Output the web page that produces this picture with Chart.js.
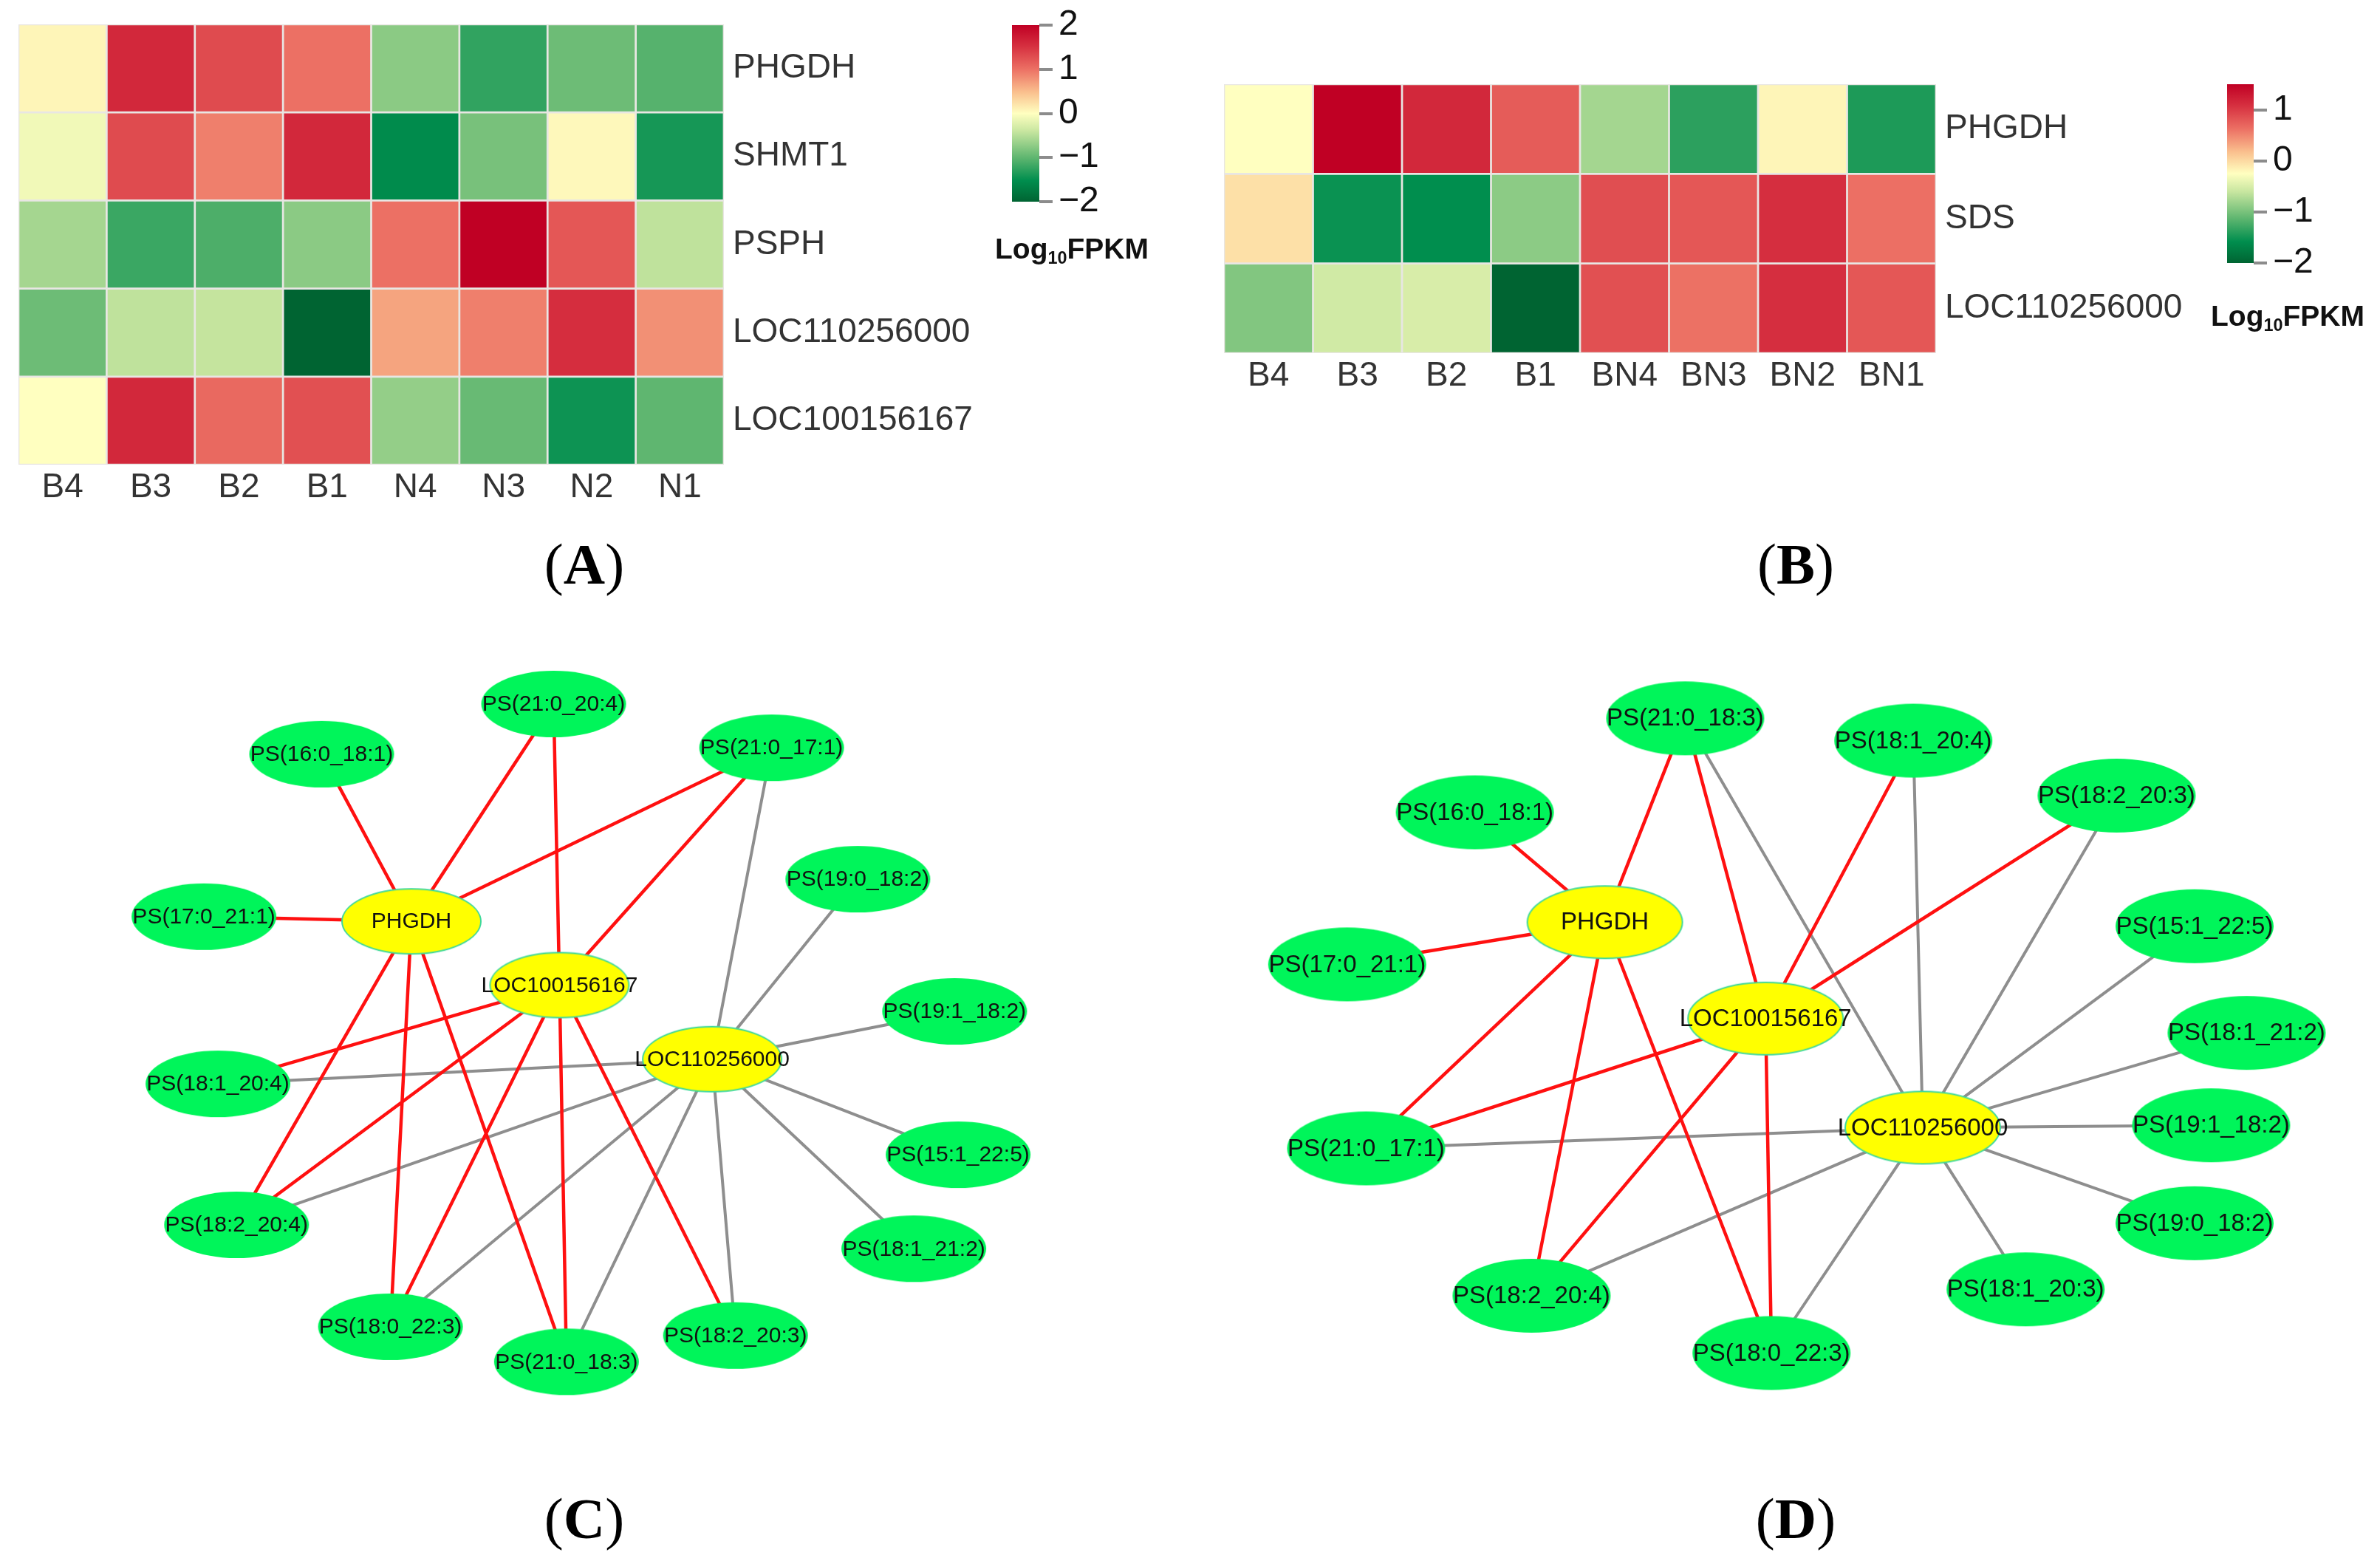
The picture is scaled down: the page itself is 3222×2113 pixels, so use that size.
<!DOCTYPE html>
<html>
<head>
<meta charset="utf-8">
<script src="https://cdn.jsdelivr.net/npm/chart.js@4.4.1/dist/chart.umd.min.js"></script>
<style>
html, body { margin: 0; padding: 0; background: #fff; }
body { width: 3222px; height: 2113px; position: relative; overflow: hidden; font-family: "Liberation Sans", Arial, sans-serif; }
canvas { position: absolute; }
.unit { position: absolute; font-weight: bold; font-size: 39px; line-height: 1; color: #111; white-space: nowrap; }
.unit sub { font-size: 60%; vertical-align: baseline; position: relative; top: 0.3em; }
.tag { position: absolute; width: 400px; text-align: center; font-family: "Liberation Serif", "Times New Roman", serif; font-size: 78px; line-height: 1; color: #000; }
</style>
</head>
<body>
<canvas id="heatA" width="1340" height="720" style="left:0;top:0"></canvas>
<canvas id="barA" width="240" height="420" style="left:1340px;top:-60px"></canvas>
<canvas id="heatB" width="1380" height="620" style="left:1600px;top:0"></canvas>
<canvas id="barB" width="242" height="420" style="left:2980px;top:0"></canvas>
<canvas id="netC" width="1600" height="1100" style="left:0;top:860px"></canvas>
<canvas id="netD" width="1622" height="1100" style="left:1600px;top:860px"></canvas>

<div class="unit" style="left:1347px;top:317px">Log<sub>10</sub>FPKM</div>
<div class="unit" style="left:2993px;top:408px">Log<sub>10</sub>FPKM</div>
<div class="tag" style="left:591px;top:725px">(<b>A</b>)</div>
<div class="tag" style="left:2231px;top:725px">(<b>B</b>)</div>
<div class="tag" style="left:591px;top:2017px">(<b>C</b>)</div>
<div class="tag" style="left:2231px;top:2017px">(<b>D</b>)</div>

<script>
// ---- panel A heatmap ----
const colsA = ['B4', 'B3', 'B2', 'B1', 'N4', 'N3', 'N2', 'N1'];
const rowsA = ['PHGDH', 'SHMT1', 'PSPH', 'LOC110256000', 'LOC100156167'];
const valsA = [
  [0.08, 1.6, 1.3, 1.0, -0.75, -1.25, -0.92, -1.05],
  [-0.1, 1.3, 0.9, 1.6, -1.55, -0.86, 0.05, -1.4],
  [-0.6, -1.2, -1.1, -0.75, 1.0, 2.0, 1.2, -0.45],
  [-0.92, -0.45, -0.42, -2.0, 0.66, 0.9, 1.55, 0.79],
  [0.0, 1.6, 1.06, 1.26, -0.7, -0.95, -1.45, -1.0]
];
const rangeA = [-2, 2];
const barTicksA = [-2, -1, 0, 1, 2];

// ---- panel B heatmap ----
const colsB = ['B4', 'B3', 'B2', 'B1', 'BN4', 'BN3', 'BN2', 'BN1'];
const rowsB = ['PHGDH', 'SDS', 'LOC110256000'];
const valsB = [
  [-0.25, 1.5, 1.15, 0.77, -0.78, -1.37, -0.18, -1.44],
  [-0.04, -1.53, -1.58, -0.9, 0.87, 0.8, 1.1, 0.63],
  [-0.95, -0.55, -0.5, -2.0, 0.85, 0.62, 1.1, 0.8]
];
const rangeB = [-2, 1.5];
const barTicksB = [-2, -1, 0, 1];

// ---- panel C network (layout position in % of panel) ----
const namesC = ['PS(21:0_20:4)', 'PS(16:0_18:1)', 'PS(21:0_17:1)', 'PS(19:0_18:2)', 'PS(17:0_21:1)',
  'PHGDH', 'LOC100156167', 'PS(19:1_18:2)', 'LOC110256000', 'PS(18:1_20:4)', 'PS(15:1_22:5)',
  'PS(18:2_20:4)', 'PS(18:1_21:2)', 'PS(18:0_22:3)', 'PS(21:0_18:3)', 'PS(18:2_20:3)'];
const xC = [46.8, 26.9, 65.5, 72.9, 16.8, 34.6, 47.3, 81.2, 60.4, 18.0, 81.5, 19.6, 77.7, 32.8, 47.9, 62.4];
const yC = [7.6, 13.9, 13.1, 29.6, 34.3, 34.9, 42.9, 46.2, 52.2, 55.3, 64.2, 73.0, 76.0, 85.8, 90.2, 86.9];
const redC = [
  ['PHGDH', 'PS(16:0_18:1)'], ['PHGDH', 'PS(21:0_20:4)'], ['PHGDH', 'PS(21:0_17:1)'], ['PHGDH', 'PS(17:0_21:1)'],
  ['PHGDH', 'PS(18:2_20:4)'], ['PHGDH', 'PS(18:0_22:3)'], ['PHGDH', 'PS(21:0_18:3)'],
  ['LOC100156167', 'PS(21:0_20:4)'], ['LOC100156167', 'PS(21:0_17:1)'], ['LOC100156167', 'PS(18:1_20:4)'],
  ['LOC100156167', 'PS(18:2_20:4)'], ['LOC100156167', 'PS(18:0_22:3)'], ['LOC100156167', 'PS(21:0_18:3)'],
  ['LOC100156167', 'PS(18:2_20:3)']
];
const grayC = [
  ['LOC110256000', 'PS(21:0_17:1)'], ['LOC110256000', 'PS(19:0_18:2)'], ['LOC110256000', 'PS(19:1_18:2)'],
  ['LOC110256000', 'PS(18:1_20:4)'], ['LOC110256000', 'PS(15:1_22:5)'], ['LOC110256000', 'PS(18:1_21:2)'],
  ['LOC110256000', 'PS(18:2_20:3)'], ['LOC110256000', 'PS(21:0_18:3)'], ['LOC110256000', 'PS(18:0_22:3)'],
  ['LOC110256000', 'PS(18:2_20:4)']
];

// ---- panel D network ----
const namesD = ['PS(21:0_18:3)', 'PS(18:1_20:4)', 'PS(16:0_18:1)', 'PS(18:2_20:3)', 'PHGDH',
  'PS(15:1_22:5)', 'PS(17:0_21:1)', 'LOC100156167', 'PS(18:1_21:2)', 'LOC110256000', 'PS(19:1_18:2)',
  'PS(21:0_17:1)', 'PS(19:0_18:2)', 'PS(18:1_20:3)', 'PS(18:2_20:4)', 'PS(18:0_22:3)'];
const xD = [41.9, 61.2, 24.1, 78.4, 35.1, 85.0, 13.3, 48.7, 89.4, 62.0, 86.4, 14.9, 85.0, 70.7, 28.9, 49.2];
const yD = [9.4, 12.2, 21.2, 19.1, 35.0, 35.5, 40.3, 47.1, 48.9, 60.8, 60.5, 63.4, 72.8, 81.1, 81.9, 89.1];
const redD = [
  ['PHGDH', 'PS(16:0_18:1)'], ['PHGDH', 'PS(21:0_18:3)'], ['PHGDH', 'PS(17:0_21:1)'], ['PHGDH', 'PS(21:0_17:1)'],
  ['PHGDH', 'PS(18:2_20:4)'], ['PHGDH', 'PS(18:0_22:3)'],
  ['LOC100156167', 'PS(21:0_18:3)'], ['LOC100156167', 'PS(18:1_20:4)'], ['LOC100156167', 'PS(18:2_20:3)'],
  ['LOC100156167', 'PS(21:0_17:1)'], ['LOC100156167', 'PS(18:2_20:4)'], ['LOC100156167', 'PS(18:0_22:3)']
];
const grayD = [
  ['LOC110256000', 'PS(21:0_18:3)'], ['LOC110256000', 'PS(18:1_20:4)'], ['LOC110256000', 'PS(18:2_20:3)'],
  ['LOC110256000', 'PS(15:1_22:5)'], ['LOC110256000', 'PS(18:1_21:2)'], ['LOC110256000', 'PS(19:1_18:2)'],
  ['LOC110256000', 'PS(19:0_18:2)'], ['LOC110256000', 'PS(18:1_20:3)'], ['LOC110256000', 'PS(18:0_22:3)'],
  ['LOC110256000', 'PS(18:2_20:4)'], ['LOC110256000', 'PS(21:0_17:1)']
];

Chart.defaults.font.family = '"Liberation Sans", Arial, sans-serif';
Chart.defaults.animation = false;

// green - pale yellow - red ramp
const ramp = [
  [0, [0, 100, 50]], [0.12, [0, 142, 78]], [0.25, [95, 182, 112]], [0.4, [200, 230, 160]],
  [0.5, [255, 255, 192]], [0.62, [250, 192, 142]], [0.75, [236, 112, 100]], [0.88, [214, 48, 64]],
  [1, [192, 0, 36]]
];
function colorAt(t) {
  t = Math.max(0, Math.min(1, t));
  for (let i = 1; i < ramp.length; i++) {
    if (t <= ramp[i][0]) {
      const [t0, c0] = ramp[i - 1], [t1, c1] = ramp[i];
      const f = (t - t0) / (t1 - t0);
      return 'rgb(' + c0.map((v, k) => Math.round(v + (c1[k] - v) * f)).join(',') + ')';
    }
  }
  return 'rgb(192,0,36)';
}

function heatmap(id, rows, cols, vals, range, padL, padT, axisW, axisH) {
  const datasets = rows.map((r, i) => ({
    label: r,
    data: cols.map(() => 1),
    backgroundColor: vals[i].map(v => colorAt((v - range[0]) / (range[1] - range[0]))),
    borderColor: '#e8e6e3',
    borderWidth: 1.7,
    borderSkipped: false,
    barPercentage: 1,
    categoryPercentage: 1
  }));
  new Chart(document.getElementById(id), {
    type: 'bar',
    data: { labels: cols, datasets: datasets },
    options: {
      responsive: false, events: [],
      layout: { padding: { left: padL, top: padT, right: 0, bottom: 0 } },
      plugins: { legend: { display: false }, tooltip: { enabled: false } },
      scales: {
        x: {
          stacked: true,
          grid: { display: false, drawTicks: false }, border: { display: false },
          ticks: { font: { size: 46 }, color: '#333', padding: 4, maxRotation: 0, autoSkip: false },
          afterFit: s => { s.height = axisH; }
        },
        y: {
          stacked: true, position: 'right', min: 0, max: rows.length, reverse: true,
          grid: { display: false, drawTicks: true, tickLength: 12 }, border: { display: false },
          ticks: { font: { size: 46 }, color: '#333', padding: 0, autoSkip: false, callback: v => rows[Math.floor(v)] },
          afterBuildTicks: s => { s.ticks = rows.map((r, i) => ({ value: i + 0.5 })); },
          afterFit: s => { s.width = axisW; }
        }
      }
    }
  });
}

function colorbar(id, range, ticks, padL, padT, padB, axisW) {
  new Chart(document.getElementById(id), {
    type: 'bar',
    data: {
      labels: [''],
      datasets: [{
        data: [range.slice()],
        backgroundColor: c => {
          const ch = c.chart, sc = ch.scales.y;
          if (!ch.chartArea || !sc) return '#ccc';
          const g = ch.ctx.createLinearGradient(0, sc.getPixelForValue(range[0]), 0, sc.getPixelForValue(range[1]));
          ramp.forEach(s => g.addColorStop(s[0], 'rgb(' + s[1].join(',') + ')'));
          return g;
        },
        borderWidth: 0, barPercentage: 1, categoryPercentage: 1
      }]
    },
    options: {
      responsive: false, events: [],
      layout: { padding: { left: padL, top: padT, right: 0, bottom: padB } },
      plugins: { legend: { display: false }, tooltip: { enabled: false } },
      scales: {
        x: { display: false },
        y: {
          position: 'right', min: range[0], max: range[1],
          grid: { drawOnChartArea: false, drawTicks: true, tickLength: 18, color: '#8c8c8c', lineWidth: 4 },
          border: { display: false },
          ticks: { font: { size: 48 }, color: '#111', padding: 8, autoSkip: false,
            callback: v => v < 0 ? '\u2212' + Math.abs(v) : String(v) },
          afterBuildTicks: s => { s.ticks = ticks.map(v => ({ value: v })); },
          afterFit: s => { s.width = axisW; }
        }
      }
    }
  });
}

function ellipse(w, h, fill, stroke) {
  const c = document.createElement('canvas');
  c.width = w + 4; c.height = h + 4;
  const g = c.getContext('2d');
  g.beginPath();
  g.ellipse(c.width / 2, c.height / 2, w / 2, h / 2, 0, 0, Math.PI * 2);
  g.fillStyle = fill;
  g.fill();
  if (stroke) { g.lineWidth = 2; g.strokeStyle = stroke; g.stroke(); }
  return c;
}

const nodeLabels = {
  id: 'nodeLabels',
  afterDatasetsDraw(chart, args, opts) {
    const ctx = chart.ctx;
    const meta = chart.getDatasetMeta(0);
    ctx.save();
    ctx.font = opts.size + 'px "Liberation Sans", Arial, sans-serif';
    ctx.fillStyle = '#111';
    ctx.textAlign = 'center';
    ctx.textBaseline = 'middle';
    meta.data.forEach((pt, i) => ctx.fillText(opts.names[i], pt.x, pt.y + 1));
    ctx.restore();
  }
};

function network(id, names, xs, ys, red, gray, size, psDim, geneDim) {
  const pos = {};
  names.forEach((n, i) => { pos[n] = { x: xs[i], y: ys[i] }; });
  const seg = list => list.flatMap(([a, b]) => [{ ...pos[a] }, { ...pos[b] }, { x: null, y: null }]);
  const psImg = ellipse(psDim[0], psDim[1], '#00f55a', null);
  const geneImg = ellipse(geneDim[0], geneDim[1], '#ffff00', '#3fd99a');
  new Chart(document.getElementById(id), {
    type: 'scatter',
    plugins: [nodeLabels],
    data: {
      datasets: [
        { data: names.map(n => ({ ...pos[n] })), pointStyle: names.map(n => n.startsWith('PS') ? psImg : geneImg),
          pointRadius: 10, showLine: false, order: 0 },
        { data: seg(red), showLine: true, borderColor: '#ff1010', borderWidth: 4.5, pointRadius: 0, order: 1 },
        { data: seg(gray), showLine: true, borderColor: '#8e8e8e', borderWidth: 4, pointRadius: 0, order: 2 }
      ]
    },
    options: {
      responsive: false, events: [],
      layout: { padding: 0 },
      plugins: { legend: { display: false }, tooltip: { enabled: false }, nodeLabels: { names: names, size: size } },
      scales: {
        x: { type: 'linear', min: 0, max: 100, display: false },
        y: { type: 'linear', min: 0, max: 100, reverse: true, display: false }
      }
    }
  });
}

heatmap('heatA', rowsA, colsA, valsA, rangeA, 25, 33, 360, 91);
colorbar('barA', rangeA, barTicksA, 30, 94, 87, 173);
heatmap('heatB', rowsB, colsB, valsB, rangeB, 57, 114, 359, 142);
colorbar('barB', rangeB, barTicksB, 35, 114, 64, 171);
network('netC', namesC, xC, yC, redC, grayC, 30, [196, 90], [188, 88]);
network('netD', namesD, xD, yD, redD, grayD, 33, [214, 100], [210, 98]);
</script>
</body>
</html>
